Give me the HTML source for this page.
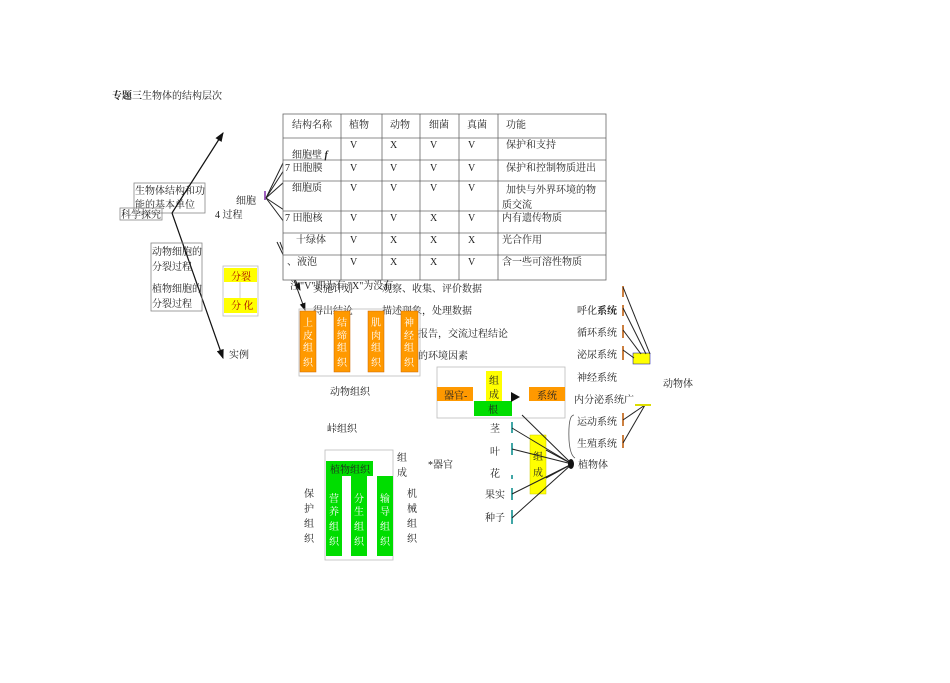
<!DOCTYPE html>
<html><head><meta charset="utf-8"><style>
html,body{margin:0;padding:0;background:#fff}
svg text{font-family:"Liberation Serif","Noto Serif CJK SC","Noto Sans CJK SC",serif;font-size:10px;fill:#222}
</style></head><body>
<svg width="950" height="678" xmlns="http://www.w3.org/2000/svg">
<defs><marker id="a" markerWidth="8" markerHeight="8" refX="7" refY="4" orient="auto"><path d="M0,1 L8,4 L0,7Z" fill="#111"/></marker></defs>
<text x="112" y="99" style="font-weight:bold">专题三</text><text x="142" y="99">生物体的结构层次</text>
<!-- left -->
<rect x="134" y="183" width="71" height="30" fill="none" stroke="#888" stroke-width="0.8"/>
<text x="135" y="194">生物体结构和功</text><text x="135" y="208">能的基本单位</text>
<rect x="120" y="208" width="42" height="12" fill="none" stroke="#888" stroke-width="0.8"/>
<text x="121" y="218">科学探究</text>
<line x1="172" y1="213" x2="223" y2="133" stroke="#111" stroke-width="1.2" marker-end="url(#a)"/>
<line x1="172" y1="213" x2="223" y2="358" stroke="#111" stroke-width="1.2" marker-end="url(#a)"/>
<rect x="151" y="243" width="51" height="68" fill="none" stroke="#888" stroke-width="0.8"/>
<text x="152" y="255">动物细胞的</text><text x="152" y="270">分裂过程</text>
<text x="152" y="292">植物细胞的</text><text x="152" y="307">分裂过程</text>
<rect x="223" y="266" width="35" height="50" fill="none" stroke="#bbb" stroke-width="0.8"/>
<rect x="224" y="268" width="33" height="14" fill="#ff0"/><text x="231" y="280" style="fill:#a00">分裂</text>
<rect x="224" y="298" width="33" height="15" fill="#ff0"/><text x="231" y="309" style="fill:#a00">分 化</text>
<line x1="240" y1="282" x2="240" y2="298" stroke="#ccc"/>
<text x="229" y="358">实例</text>
<text x="236" y="204">细胞</text><text x="215" y="218">4 过程</text>
<rect x="264" y="191" width="2" height="9" fill="#a060c0"/>
<g stroke="#222" stroke-width="1">
<line x1="266" y1="198" x2="284" y2="161"/><line x1="266" y1="198" x2="284" y2="182"/><line x1="266" y1="198" x2="284" y2="210"/><line x1="266" y1="198" x2="284" y2="222"/><line x1="266" y1="198" x2="284" y2="170"/>
<line x1="277" y1="242" x2="300" y2="290" marker-end="url(#a)"/><line x1="280" y1="242" x2="305" y2="310" marker-end="url(#a)"/>
</g>
<!-- table -->
<rect x="283" y="114" width="323" height="166" fill="#fff" stroke="#666" stroke-width="0.8"/>
<g stroke="#666" stroke-width="0.8">
<line x1="341" y1="114" x2="341" y2="280"/><line x1="382" y1="114" x2="382" y2="280"/><line x1="420" y1="114" x2="420" y2="280"/><line x1="459" y1="114" x2="459" y2="280"/><line x1="498" y1="114" x2="498" y2="280"/>
<line x1="283" y1="138" x2="606" y2="138"/><line x1="283" y1="160" x2="606" y2="160"/><line x1="283" y1="181" x2="606" y2="181"/><line x1="283" y1="211" x2="606" y2="211"/><line x1="283" y1="233" x2="606" y2="233"/><line x1="283" y1="255" x2="606" y2="255"/>
</g>
<text x="292" y="128">结构名称</text><text x="349" y="128">植物</text><text x="390" y="128">动物</text><text x="429" y="128">细菌</text><text x="467" y="128">真菌</text><text x="506" y="128">功能</text>
<g>
<text x="292" y="158">细胞壁 <tspan style="font-style:italic;font-weight:bold">f</tspan></text><text x="350" y="148">V</text><text x="390" y="148">X</text><text x="430" y="148">V</text><text x="468" y="148">V</text><text x="506" y="148">保护和支持</text>
<text x="285" y="171">7 田胞膜</text><text x="350" y="171">V</text><text x="390" y="171">V</text><text x="430" y="171">V</text><text x="468" y="171">V</text><text x="506" y="171">保护和控制物质进出</text>
<text x="292" y="191">细胞质</text><text x="350" y="191">V</text><text x="390" y="191">V</text><text x="430" y="191">V</text><text x="468" y="191">V</text><text x="506" y="193">加快与外界环境的物</text><text x="502" y="208">质交流</text>
<text x="285" y="221">7 田胞核</text><text x="350" y="221">V</text><text x="390" y="221">V</text><text x="430" y="221">X</text><text x="468" y="221">V</text><text x="502" y="221">内有遗传物质</text>
<text x="296" y="243">十绿体</text><text x="350" y="243">V</text><text x="390" y="243">X</text><text x="430" y="243">X</text><text x="468" y="243">X</text><text x="502" y="243">光合作用</text>
<text x="287" y="265">、液泡</text><text x="350" y="265">V</text><text x="390" y="265">X</text><text x="430" y="265">X</text><text x="468" y="265">V</text><text x="502" y="265">含一些可溶性物质</text>
</g>
<text x="290" y="289">注"V"即为有  "X"为没有</text>
<text x="313" y="292">实施计划</text><text x="382" y="292">观察、收集、评价数据</text>
<text x="313" y="314">得出结论</text><text x="382" y="314">描述现象，处理数据</text>
<text x="418" y="337">报告，交流过程结论</text><text x="418" y="359">的环境因素</text>
<!-- animal tissues -->
<rect x="299" y="309" width="121" height="67" fill="none" stroke="#bbb" stroke-width="0.8"/>
<g fill="#f90" stroke="#c60" stroke-width="0.5">
<rect x="300" y="311" width="16" height="61"/><rect x="334" y="311" width="16" height="61"/><rect x="368" y="311" width="16" height="61"/><rect x="401" y="311" width="17" height="61"/></g>
<g style="fill:#fff">
<text x="303" y="326" style="fill:#fff">上</text><text x="303" y="339" style="fill:#fff">皮</text><text x="303" y="351" style="fill:#fff">组</text><text x="303" y="366" style="fill:#fff">织</text>
<text x="337" y="326" style="fill:#fff">结</text><text x="337" y="339" style="fill:#fff">缔</text><text x="337" y="351" style="fill:#fff">组</text><text x="337" y="366" style="fill:#fff">织</text>
<text x="371" y="326" style="fill:#fff">肌</text><text x="371" y="339" style="fill:#fff">肉</text><text x="371" y="351" style="fill:#fff">组</text><text x="371" y="366" style="fill:#fff">织</text>
<text x="404" y="326" style="fill:#fff">神</text><text x="404" y="339" style="fill:#fff">经</text><text x="404" y="351" style="fill:#fff">组</text><text x="404" y="366" style="fill:#fff">织</text>
</g>
<text x="330" y="395">动物组织</text>
<text x="327" y="432">峠组织</text>
<!-- plant tissues -->
<rect x="325" y="450" width="68" height="110" fill="none" stroke="#bbb" stroke-width="0.8"/>
<rect x="326" y="461" width="47" height="15" fill="#0d0"/><text x="330" y="473">植物组织</text>
<g fill="#0d0"><rect x="326" y="476" width="16" height="80"/><rect x="351" y="476" width="16" height="80"/><rect x="377" y="476" width="16" height="80"/></g>
<g style="fill:#fff"><text x="329" y="502" style="fill:#fff">营</text><text x="329" y="515" style="fill:#fff">养</text><text x="329" y="530" style="fill:#fff">组</text><text x="329" y="545" style="fill:#fff">织</text>
<text x="354" y="502" style="fill:#fff">分</text><text x="354" y="515" style="fill:#fff">生</text><text x="354" y="530" style="fill:#fff">组</text><text x="354" y="545" style="fill:#fff">织</text>
<text x="380" y="502" style="fill:#fff">输</text><text x="380" y="515" style="fill:#fff">导</text><text x="380" y="530" style="fill:#fff">组</text><text x="380" y="545" style="fill:#fff">织</text></g>
<text x="304" y="497">保</text><text x="304" y="512">护</text><text x="304" y="527">组</text><text x="304" y="542">织</text>
<text x="407" y="497">机</text><text x="407" y="512">械</text><text x="407" y="527">组</text><text x="407" y="542">织</text>
<text x="397" y="461">组</text><text x="397" y="476">成</text>
<text x="428" y="468">*器官</text>
<!-- organ box -->
<rect x="437" y="367" width="128" height="51" fill="none" stroke="#bbb" stroke-width="0.8"/>
<rect x="437" y="387" width="36" height="14" fill="#f90"/><text x="444" y="399">器官-</text>
<rect x="486" y="371" width="16" height="30" fill="#ff0"/><text x="489" y="384">组</text><text x="489" y="398">成</text>
<rect x="474" y="401" width="38" height="15" fill="#0d0"/><text x="488" y="413">根</text>
<path d="M511,392 L520,397 L511,402Z" fill="#111"/>
<rect x="529" y="387" width="36" height="14" fill="#f90"/><text x="537" y="399">系统</text>
<text x="490" y="432">茎</text><text x="490" y="455">叶</text><text x="490" y="477">花</text><text x="485" y="498">果实</text><text x="485" y="521">种子</text>
<g stroke="#088" stroke-width="1.5"><line x1="512" y1="422" x2="512" y2="433"/><line x1="512" y1="443" x2="512" y2="455"/><line x1="512" y1="475" x2="512" y2="479"/><line x1="512" y1="488" x2="512" y2="500"/><line x1="512" y1="510" x2="512" y2="524"/></g>
<rect x="530" y="435" width="16" height="59" fill="#ff0" stroke="#cc0" stroke-width="0.5"/><text x="533" y="460">组</text><text x="533" y="476">成</text>
<g stroke="#222" stroke-width="1"><line x1="512" y1="428" x2="572" y2="464"/><line x1="512" y1="449" x2="572" y2="464"/><line x1="512" y1="494" x2="572" y2="464"/><line x1="512" y1="518" x2="572" y2="464"/><line x1="522" y1="415" x2="572" y2="464"/><line x1="546" y1="450" x2="572" y2="464"/><line x1="546" y1="478" x2="572" y2="464"/></g>
<ellipse cx="571" cy="464" rx="3" ry="5" fill="#111"/>
<text x="578" y="468">植物体</text>
<!-- systems -->
<text x="577" y="314">呼化<tspan style="font-weight:bold">系统</tspan></text><text x="577" y="336">循环系统</text><text x="577" y="358">泌尿系统</text><text x="577" y="381">神经系统</text><text x="574" y="403">内分泌系统广</text><text x="577" y="425">运动系统</text><text x="577" y="447">生殖系统</text>
<g stroke="#b50" stroke-width="1.5"><line x1="623" y1="286" x2="623" y2="297"/><line x1="623" y1="305" x2="623" y2="316"/><line x1="623" y1="325" x2="623" y2="338"/><line x1="623" y1="346" x2="623" y2="360"/><line x1="623" y1="413" x2="623" y2="426"/><line x1="623" y1="435" x2="623" y2="448"/></g>
<rect x="633" y="353" width="17" height="11" fill="#ff0" stroke="#00a" stroke-width="0.5"/>
<g stroke="#222" stroke-width="1"><line x1="623" y1="287" x2="650" y2="354"/><line x1="623" y1="308" x2="646" y2="354"/><line x1="623" y1="330" x2="641" y2="354"/><line x1="623" y1="350" x2="634" y2="358"/><line x1="623" y1="420" x2="645" y2="405"/><line x1="623" y1="443" x2="645" y2="405"/></g>
<line x1="635" y1="405" x2="651" y2="405" stroke="#dd0" stroke-width="2"/>
<path d="M574,415 Q568,415 569,440 Q570,455 575,458" fill="none" stroke="#555" stroke-width="0.8"/>
<text x="663" y="387">动物体</text>
</svg>
</body></html>
